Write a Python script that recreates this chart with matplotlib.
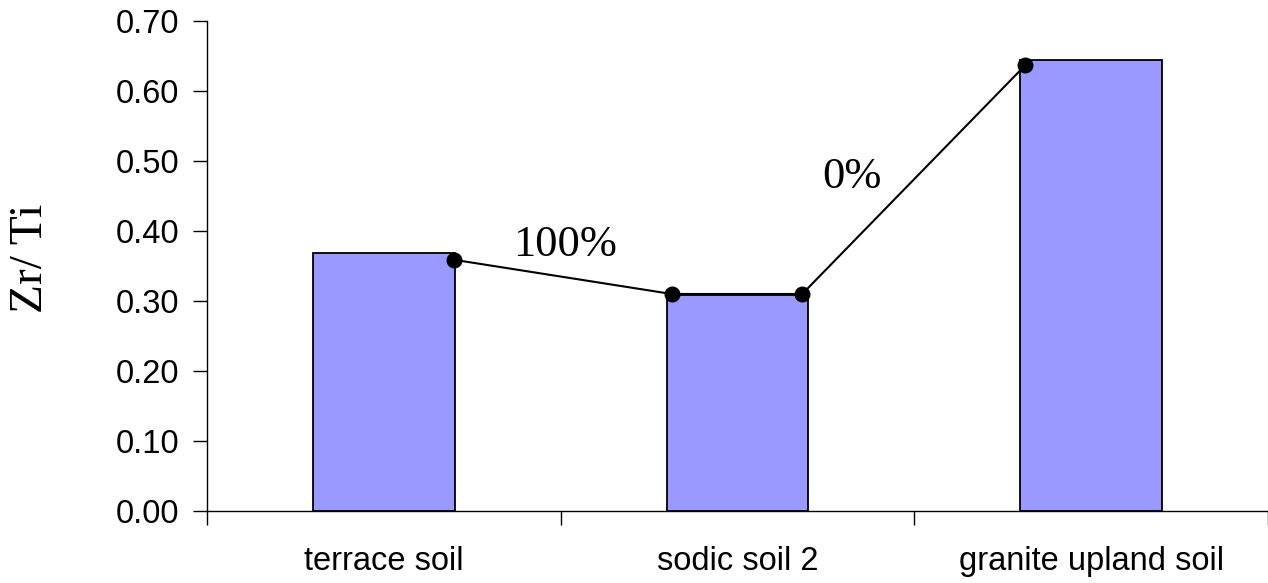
import numpy as np
import matplotlib
matplotlib.use("Agg")
import matplotlib.pyplot as plt
from matplotlib.ticker import FixedLocator, FormatStrFormatter

# ── data ──────────────────────────────────────────────
categories = ["terrace soil", "sodic soil 2", "granite upland soil"]
zr_ti = [0.369, 0.309, 0.645]

# connecting line (x in category units)
line_x = [0.197, 0.814, 1.183, 1.814]
line_y = [0.359, 0.310, 0.310, 0.637]

labels = ["100%", "0%"]
label_x = [0.513, 1.324]
label_y = [0.380, 0.477]
# ──────────────────────────────────────────────────────

fig = plt.figure(figsize=(12.68, 5.83), dpi=100)
ax = fig.add_axes([207 / 1268, 72 / 583, 1061 / 1268, 490 / 583])

x = np.arange(len(categories))
ax.bar(x, zr_ti, width=0.4, color="#9999FF", edgecolor="black", linewidth=1.3, zorder=2)
ax.plot(line_x, line_y, color="black", lw=1.5, marker="o", ms=10.5, zorder=3)

for t, tx, ty in zip(labels, label_x, label_y):
    ax.text(tx, ty, t, ha="center", va="center", fontsize=32, family="Liberation Serif")

ax.set_xlim(-0.5, len(categories) - 0.5)
ax.set_ylim(0, 0.70)
ax.set_yticks(np.arange(0, 0.71, 0.1))
ax.yaxis.set_major_formatter(FormatStrFormatter("%.2f"))
ax.set_xticks(x)
ax.set_xticklabels(categories)
ax.xaxis.set_minor_locator(FixedLocator(np.arange(-0.5, len(categories), 1.0)))

for lab in ax.get_xticklabels() + ax.get_yticklabels():
    lab.set_family("Liberation Sans")
    lab.set_fontsize(23.5)

ax.tick_params(axis="x", which="major", length=0, pad=25)
ax.tick_params(axis="x", which="minor", length=10, width=1, direction="out")
ax.tick_params(axis="y", length=10, width=1, direction="out", pad=10)

ax.spines["top"].set_visible(False)
ax.spines["right"].set_visible(False)
ax.spines["left"].set_linewidth(1)
ax.spines["bottom"].set_linewidth(1)

fig.text(31 / 1268, 1 - 258 / 583, "Zr/ Ti", rotation=90, ha="center", va="center",
         fontsize=34, family="Liberation Serif")

fig.savefig("out.png", dpi=100)
